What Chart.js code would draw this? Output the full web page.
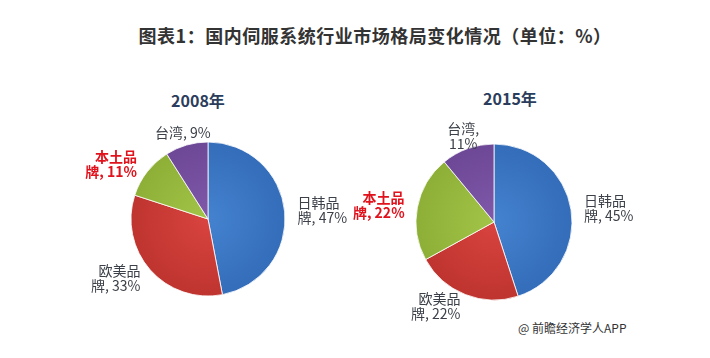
<!DOCTYPE html>
<html><head><meta charset="utf-8">
<script src="https://cdn.jsdelivr.net/npm/chart.js@4/dist/chart.umd.min.js"></script>
<style>
html,body{margin:0;padding:0;background:#fff}
body{width:710px;height:358px;overflow:hidden;position:relative;font-family:"Noto Sans CJK SC","Noto Sans",sans-serif}
canvas{position:absolute;left:0;top:0}
.t{position:absolute;white-space:nowrap}
#title{top:24px;left:0;width:750px;text-align:center;font-weight:bold;font-size:18px;line-height:22px;color:#333;letter-spacing:0.5px}
.yr{font-weight:bold;font-size:16px;line-height:18px;color:#2b3d5c;width:100px;text-align:center}
#src{left:518px;top:320px;font-size:12px;line-height:16px;color:#333}
</style></head>
<body>
<div id="title" class="t">图表1：国内伺服系统行业市场格局变化情况（单位：%）</div>
<div id="y1" class="t yr" style="left:148px;top:91px"></div>
<div id="y2" class="t yr" style="left:460px;top:89px"></div>
<div id="src" class="t">@ 前瞻经济学人APP</div>
<canvas id="c1" width="710" height="358"></canvas>
<canvas id="c2" width="710" height="358"></canvas>
<script>
const categories = ['日韩品牌','欧美品牌','本土品牌','台湾'];
const years = ['2008年','2015年'];
const values2008 = [47,33,11,9];
const values2015 = [45,22,22,11];
const split2008 = [3,3,3,null];
const split2015 = [3,3,3,3];
const highlightIndex = 2;

document.getElementById('y1').textContent = years[0];
document.getElementById('y2').textContent = years[1];

function makeLines(vals, splits){
  return vals.map((v,i)=>{
    const s = categories[i] + ', ' + v + '%';
    const k = splits[i];
    return k==null ? [s] : [s.slice(0,k), s.slice(k).trim()];
  });
}

const innerColors = ['#4482cf','#d9443f','#a2c447','#8059aa'];
const outerColors = ['#336cb8','#bd332e','#8cae36','#6c4795'];
function shade(c){
  const i=c.dataIndex;
  const ca=c.chart.chartArea; if(!ca) return outerColors[i];
  const cx=(ca.left+ca.right)/2, cy=(ca.top+ca.bottom)/2;
  const g=c.chart.ctx.createRadialGradient(cx,cy,0,cx,cy,82);
  g.addColorStop(0,innerColors[i]); g.addColorStop(1,outerColors[i]); return g;
}

const labelPlugin = {
  id:'sliceLabels',
  afterDatasetsDraw(chart, args, opts){
    const ctx=chart.ctx; const meta=chart.getDatasetMeta(0);
    meta.data.forEach((arc,i)=>{
      const p=arc.getProps(['x','y','startAngle','endAngle','outerRadius'],true);
      const mid=(p.startAngle+p.endAngle)/2; const d=p.outerRadius+opts.gap;
      const px=p.x+Math.cos(mid)*d, py=p.y+Math.sin(mid)*d;
      const c=Math.cos(mid);
      const align = c>0.35?'left':(c<-0.35?'right':'center');
      const lines=opts.lines[i]; const hl=i===highlightIndex;
      ctx.save();
      ctx.font=(hl?'bold ':'')+'14px "Noto Sans CJK SC", sans-serif';
      ctx.fillStyle=hl?'#e0121c':'#3c4048';
      ctx.textAlign=align; ctx.textBaseline='middle';
      const lh=15; const y0=py-(lines.length-1)*lh/2;
      lines.forEach((l,k)=>ctx.fillText(l,px,y0+k*lh));
      ctx.restore();
    });
  }
};

function makePie(id, vals, splits, pad, radius){
  return new Chart(document.getElementById(id), {
    type:'pie',
    data:{labels:categories, datasets:[{data:vals, backgroundColor:shade, borderColor:'rgba(255,255,255,0.8)', borderWidth:1, radius:radius}]},
    options:{
      responsive:false, animation:false,
      layout:{padding:pad},
      plugins:{legend:{display:false}, tooltip:{enabled:false}, sliceLabels:{gap:13, lines:makeLines(vals,splits)}}
    },
    plugins:[labelPlugin]
  });
}
makePie('c1', values2008, split2008, {left:108,right:402,top:119,bottom:39}, 77);
makePie('c2', values2015, split2015, {left:394,right:116,top:122,bottom:36}, 78);
</script>
</body></html>
